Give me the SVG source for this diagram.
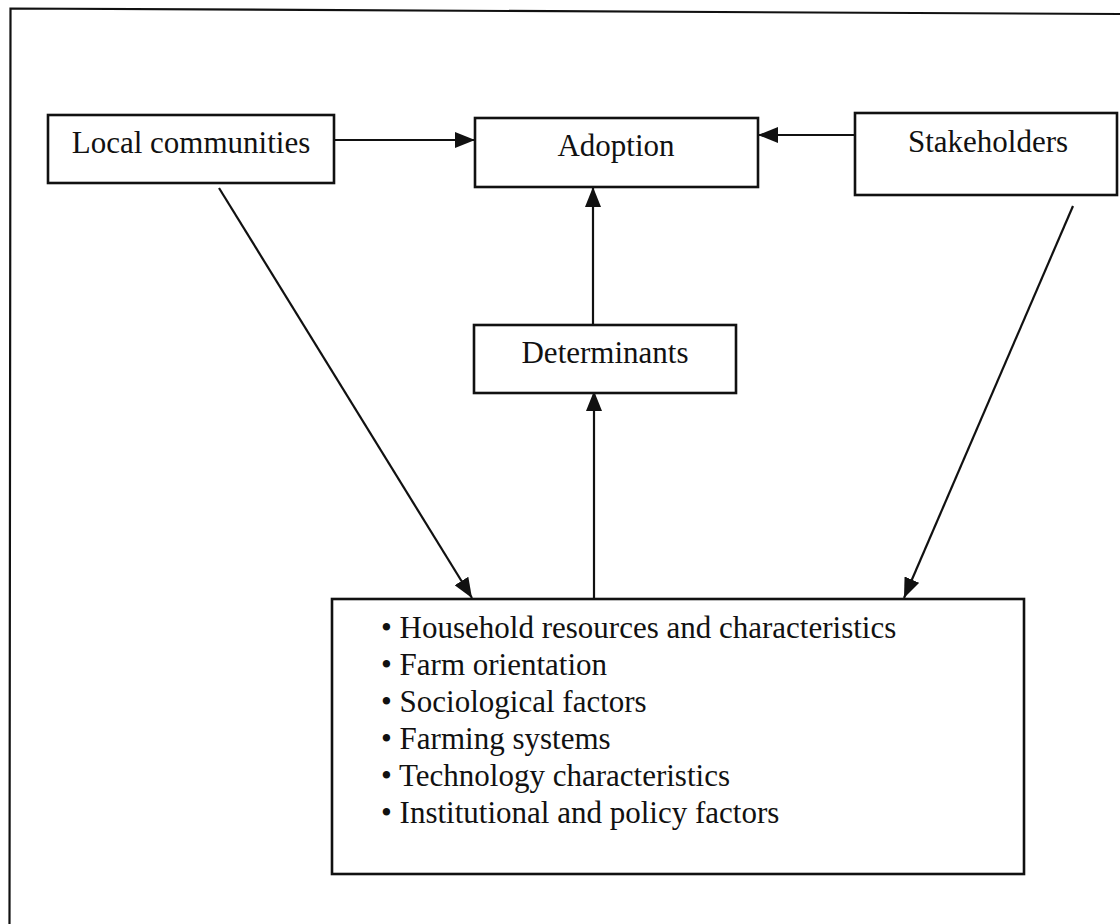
<svg xmlns="http://www.w3.org/2000/svg" width="1120" height="924" viewBox="0 0 1120 924">
<defs>
<style>
.box{fill:#fff;stroke:#111;stroke-width:2.6}
.lbl{font-family:"Liberation Serif","Times New Roman",serif;font-size:31px;fill:#111}
.mid{text-anchor:middle}
.con{stroke:#111;stroke-width:2.2;fill:none}
.frame{stroke:#111;stroke-width:2.2;fill:none}
</style>
<marker id="ah" viewBox="0 0 20 16" refX="20" refY="8" markerWidth="20" markerHeight="16" markerUnits="userSpaceOnUse" orient="auto">
<path d="M0,0 L20,8 L0,16 Z" fill="#111"/>
</marker>
</defs>
<rect width="1120" height="924" fill="#fff"/>
<path class="frame" d="M9.5,924 L10.5,8.5 L1120,14"/>
<g id="connectors">
<line class="con" x1="334" y1="140" x2="475" y2="140" marker-end="url(#ah)"/>
<line class="con" x1="855" y1="135" x2="758" y2="135" marker-end="url(#ah)"/>
<line class="con" x1="593" y1="325" x2="593" y2="187" marker-end="url(#ah)"/>
<line class="con" x1="594" y1="598" x2="594" y2="391" marker-end="url(#ah)"/>
<line class="con" x1="219" y1="188" x2="472" y2="598" marker-end="url(#ah)"/>
<line class="con" x1="1073" y1="206" x2="904" y2="598" marker-end="url(#ah)"/>
</g>
<g id="local-communities">
<rect class="box" x="48" y="115" width="286" height="68"/>
<text class="lbl mid" x="191" y="153">Local communities</text>
</g>
<g id="adoption">
<rect class="box" x="475" y="118" width="283" height="69"/>
<text class="lbl mid" x="616" y="156">Adoption</text>
</g>
<g id="stakeholders">
<rect class="box" x="855" y="113" width="262" height="82"/>
<text class="lbl mid" x="988" y="152">Stakeholders</text>
</g>
<g id="determinants">
<rect class="box" x="474" y="325" width="262" height="68"/>
<text class="lbl mid" x="605" y="363">Determinants</text>
</g>
<g id="factors">
<rect class="box" x="332" y="599" width="692" height="275"/>
<text class="lbl" x="381" y="638">• Household resources and characteristics</text>
<text class="lbl" x="381" y="675">• Farm orientation</text>
<text class="lbl" x="381" y="712">• Sociological factors</text>
<text class="lbl" x="381" y="749">• Farming systems</text>
<text class="lbl" x="381" y="786">• Technology characteristics</text>
<text class="lbl" x="381" y="823">• Institutional and policy factors</text>
</g>
</svg>
